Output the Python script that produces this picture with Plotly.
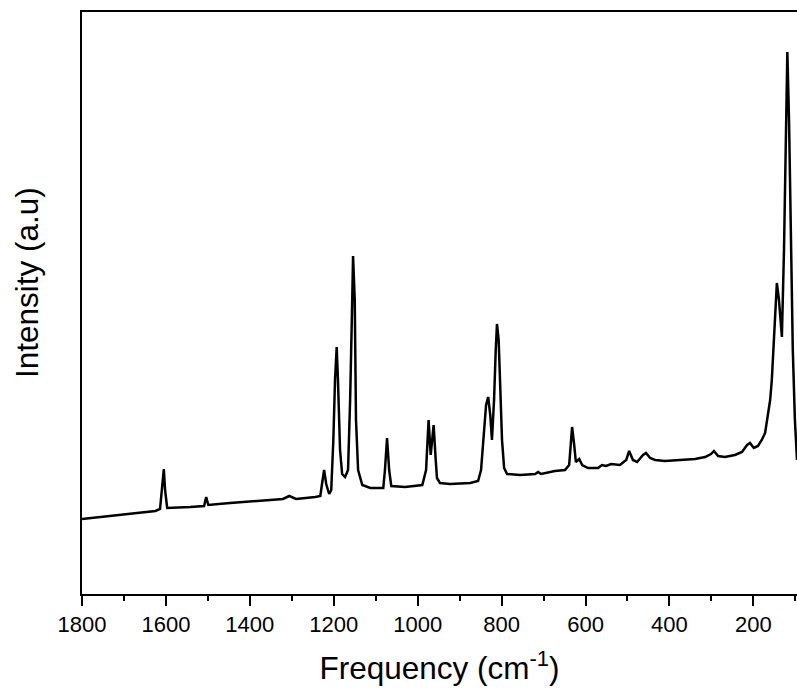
import plotly.graph_objects as go

# Raman spectrum
frequency = [1800, 1756, 1709, 1661, 1625, 1614, 1609, 1605, 1602, 1597,
             1542, 1509, 1504, 1499, 1447, 1375, 1321, 1306, 1290, 1244,
             1232, 1228, 1223, 1218, 1211, 1206, 1201, 1197, 1193, 1190,
             1185, 1180, 1173, 1166, 1161, 1156, 1154, 1150, 1147, 1142,
             1132, 1113, 1082, 1078, 1073, 1068, 1063, 1030, 989, 980,
             974, 969, 962, 957, 954, 947, 923, 875, 856, 849,
             844, 837, 832, 827, 823, 818, 814, 811, 807, 804,
             799, 794, 787, 756, 720, 713, 706, 673, 649, 639,
             634, 632, 627, 623, 615, 608, 594, 570, 561, 551,
             539, 518, 503, 496, 487, 477, 463, 456, 446, 434,
             411, 375, 339, 315, 301, 294, 284, 268, 244, 227,
             215, 208, 199, 189, 180, 172, 166, 160, 156, 151,
             149, 144, 139, 134, 132, 127, 122, 119, 115, 110,
             106, 101, 96]

intensity = [75, 77, 79, 81, 83, 85, 104, 125, 104, 86,
             87, 88, 97, 89, 91, 93, 95, 98, 95, 97,
             98, 110, 124, 110, 100, 104, 154, 214, 247, 214,
             144, 120, 117, 124, 194, 294, 338, 294, 174, 124,
             109, 106, 106, 124, 156, 124, 108, 107, 109, 124,
             174, 139, 169, 134, 116, 111, 110, 111, 113, 124,
             154, 189, 197, 179, 154, 194, 244, 270, 254, 214,
             154, 126, 120, 119, 120, 122, 120, 123, 124, 129,
             154, 167, 149, 132, 135, 129, 126, 126, 129, 128,
             130, 129, 134, 143, 134, 132, 139, 141, 136, 134,
             133, 134, 135, 137, 140, 143, 138, 137, 139, 142,
             149, 151, 146, 148, 154, 161, 177, 194, 214, 254,
             277, 311, 294, 264, 257, 344, 474, 542, 474, 344,
             244, 174, 134]

tick_vals = [1800, 1600, 1400, 1200, 1000, 800, 600, 400, 200]
tick_text = [str(v) for v in tick_vals]

fig = go.Figure()
fig.add_trace(go.Scatter(
    x=frequency, y=intensity, mode="lines",
    line=dict(color="black", width=2.5),
    showlegend=False,
))

fig.update_layout(
    width=797, height=694,
    margin=dict(l=82, r=0, t=12, b=100),
    plot_bgcolor="white", paper_bgcolor="white",
    font=dict(family="Liberation Sans, Arial, sans-serif", color="black"),
)

fig.update_xaxes(
    range=[1800, 96], autorange=False,
    tickvals=tick_vals, ticktext=tick_text,
    ticks="outside", ticklen=10, tickwidth=2, tickcolor="black",
    minor=dict(dtick=100, tick0=0, ticks="outside", ticklen=5, tickwidth=2, tickcolor="black"),
    showline=True, linewidth=2, linecolor="black", mirror=True,
    showgrid=False, zeroline=False,
    tickfont=dict(size=22),
    title=dict(text="Frequency (cm<sup>-1</sup>)", font=dict(size=31.5), standoff=21),
)

fig.update_yaxes(
    range=[0, 582], autorange=False,
    showticklabels=False, ticks="",
    showline=True, linewidth=2, linecolor="black", mirror=False,
    showgrid=False, zeroline=False,
)

fig.add_annotation(
    text="Intensity (a.u)", textangle=-90,
    xref="paper", yref="paper", x=-0.077, y=0.536,
    xanchor="center", yanchor="middle", showarrow=False,
    font=dict(size=31.5, color="black"),
)

fig.write_html("out.html")
